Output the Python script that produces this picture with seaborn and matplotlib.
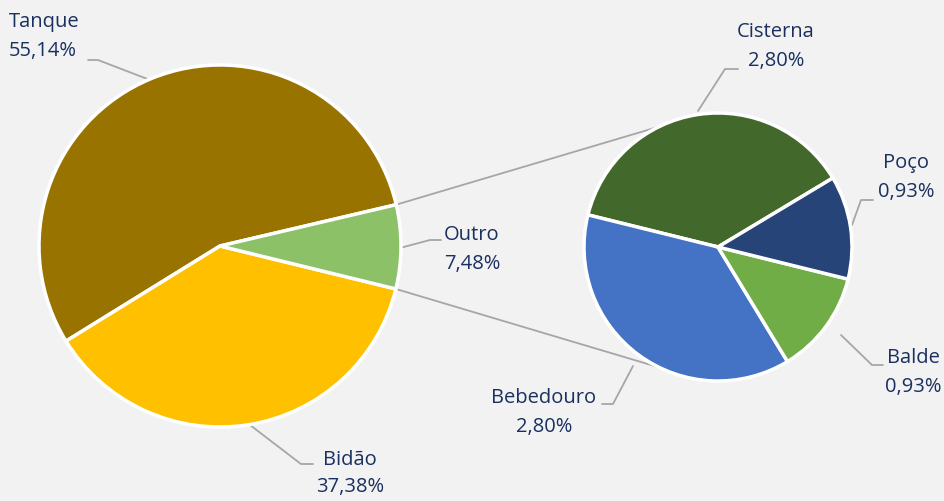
import numpy as np
import matplotlib
matplotlib.use("Agg")
import matplotlib.pyplot as plt
import seaborn as sns

# --- data ---
main_labels = ["Tanque", "Bidão", "Outro"]
main_values = [55.14, 37.38, 7.48]
main_colors = ["#997300", "#FFC000", "#8CC168"]

sub_labels = ["Cisterna", "Bebedouro", "Balde", "Poço"]
sub_values = [2.80, 2.80, 0.93, 0.93]
sub_colors = ["#43682B", "#4472C4", "#70AD47", "#264478"]

sns.set_theme(style="white")
plt.rcParams["font.family"] = ["Open Sans", "DejaVu Sans"]

W, H = 945, 501
BG = "#F2F2F2"
TXT = "#1A3060"
LINE = "#A6A6A6"


def Y(py):
    # picture coordinates run downwards; axes upwards
    return H - py


fig = plt.figure(figsize=(W / 100, H / 100), dpi=100, facecolor=BG)
ax = fig.add_axes([0, 0, 1, 1])
ax.set_facecolor(BG)

# --- main pie ---
main_c = (220, Y(246))
main_r = 181
main_start = 13.2
ax.pie(main_values, colors=main_colors, startangle=main_start, counterclock=True,
       center=main_c, radius=main_r, frame=True,
       wedgeprops=dict(edgecolor="white", linewidth=2.5))

# --- secondary pie ---
sub_c = (718, Y(247))
sub_r = 134
ax.pie(sub_values, colors=sub_colors, startangle=31, counterclock=True,
       center=sub_c, radius=sub_r, frame=True,
       wedgeprops=dict(edgecolor="white", linewidth=2.5))
ax.set_xlim(0, W)
ax.set_ylim(0, H)
ax.set_aspect("equal")
ax.axis("off")

# --- connector lines between the pies ---
outro_share = main_values[2] / sum(main_values) * 360
for a_main, a_sub in [(main_start, 116), (main_start - outro_share, -116)]:
    p1 = (main_c[0] + main_r * np.cos(np.radians(a_main)),
          main_c[1] + main_r * np.sin(np.radians(a_main)))
    p2 = (sub_c[0] + sub_r * np.cos(np.radians(a_sub)),
          sub_c[1] + sub_r * np.sin(np.radians(a_sub)))
    ax.plot([p1[0], p2[0]], [p1[1], p2[1]], color=LINE, lw=1.3, zorder=0)


def fmt(v):
    return f"{v:.2f}%".replace(".", ",")


# --- labels with leader lines ---
labels = [
    # name, value, text x, text y(top line), ha, leader path (picture px)
    ("Tanque", main_values[0], 9, 22, "left", [(150, 80), (98, 60), (88, 60)]),
    ("Bidão", main_values[1], 350, 460, "center", [(250, 425), (301, 464), (313, 464)]),
    ("Outro", main_values[2], 472, 235, "center", [(400, 248), (430, 240), (441, 240)]),
    ("Cisterna", sub_values[0], 776, 32, "center", [(698, 111), (725, 69), (738, 69)]),
    ("Poço", sub_values[3], 906, 163, "center", [(852, 225), (861, 200), (873, 200)]),
    ("Balde", sub_values[2], 913, 358, "center", [(841, 335), (872, 365), (883, 365)]),
    ("Bebedouro", sub_values[1], 544, 398, "center", [(633, 366), (613, 404), (602, 404)]),
]
for name, val, tx, ty, ha, path in labels:
    xs = [p[0] for p in path]
    ys = [Y(p[1]) for p in path]
    ax.plot(xs, ys, color=LINE, lw=1.3, zorder=0)
    gap = 27 if name == "Bidão" else 29
    ax.text(tx, Y(ty), name, ha=ha, va="center", fontsize=14.5, color=TXT)
    ax.text(tx, Y(ty + gap), fmt(val), ha=ha, va="center", fontsize=14.5, color=TXT)

fig.savefig("out.png", dpi=100, facecolor=BG)
